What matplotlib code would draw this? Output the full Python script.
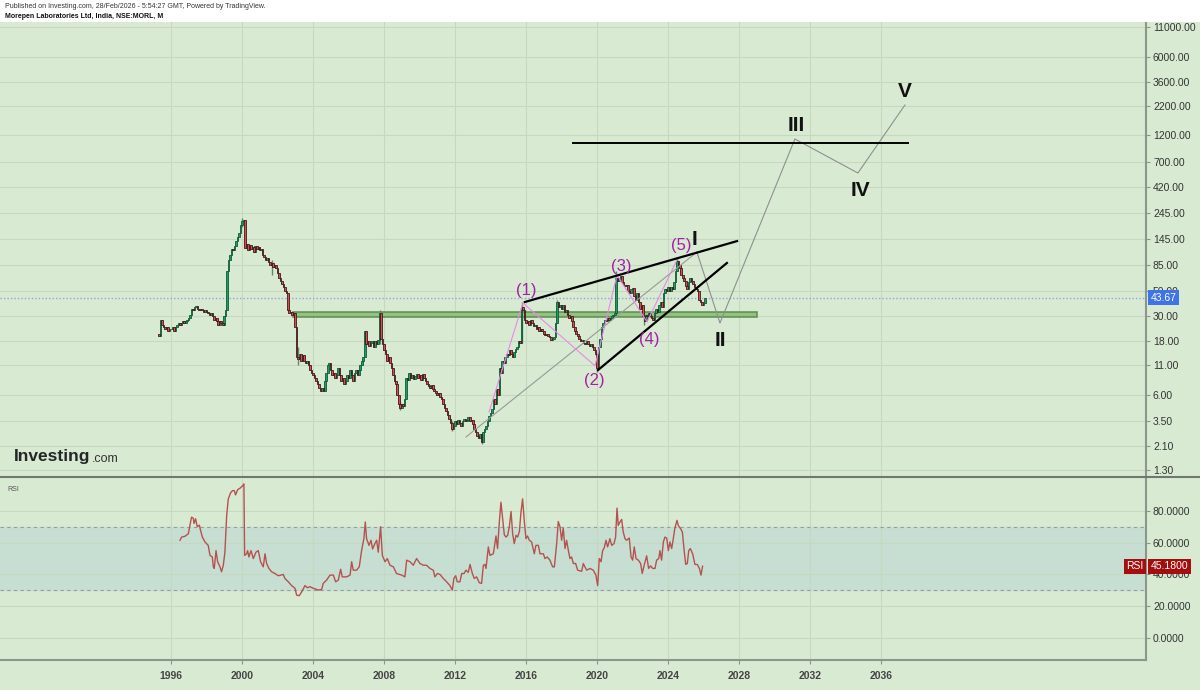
import numpy as np
import matplotlib.pyplot as plt
from matplotlib.patches import Rectangle
from matplotlib.ticker import FixedLocator, FixedFormatter, NullLocator
from matplotlib.lines import Line2D

plt.rcParams['font.family'] = ['Liberation Sans', 'DejaVu Sans']

# monthly closes, first bar May 1995, last bar Feb 2026
start_year, start_month = 1995, 5
first_open = 21.0
closes = [
    20, 28, 25, 24, 23, 24, 22, 23,                                   # 1995
    23, 24, 22, 24, 25, 26, 25, 26, 27, 26, 27, 28,                   # 1996
    29, 31, 35, 34, 36, 37, 35, 34, 35, 34, 33, 34,                   # 1997
    33, 32, 31, 32, 30, 28, 29, 27, 25, 27, 26, 25,                   # 1998
    30, 34, 75, 95, 105, 118, 115, 125, 140, 150, 165, 195,           # 1999
    210, 215, 120, 130, 115, 128, 118, 124, 112, 125, 118, 122,       # 2000
    115, 118, 105, 100, 95, 98, 90, 85, 88, 82, 86, 80,               # 2001
    72, 66, 62, 58, 55, 50, 48, 34, 32, 33, 31, 32,                   # 2002
    24, 13, 12.5, 14, 12, 13.5, 12, 11.5, 12, 11, 10, 9.5,            # 2003
    9, 8.5, 8, 7.5, 7, 6.5, 7, 6.5, 8, 9.5, 11, 11.5,                 # 2004
    10, 9, 9.5, 8.5, 9, 10.5, 9, 8, 8.5, 7.5, 8, 9,                   # 2005
    8.5, 10, 9, 8, 9.5, 10, 9, 10, 11, 12, 13, 22,                    # 2006
    17, 18, 16.5, 17.5, 18, 16, 18, 17, 18.5, 32, 19, 17,             # 2007
    15, 14, 12, 13, 11.5, 10.5, 9, 8, 7.5, 6, 5, 4.6,                 # 2008
    5.0, 4.8, 5.5, 8.5, 8.2, 9.5, 8.5, 9, 8.3, 8.8, 9.2, 8.5,         # 2009
    9, 8.2, 9.3, 8.5, 8, 7.5, 7.2, 7, 7.3, 6.8, 6.5, 6.2,             # 2010
    6, 6.3, 5.8, 5.5, 5, 4.6, 4.3, 4.0, 3.7, 3.4, 3.0, 3.2,           # 2011
    3.5, 3.3, 3.6, 3.4, 3.2, 3.5, 3.7, 3.5, 3.6, 3.8, 3.5, 3.6,       # 2012
    3.3, 3.0, 2.8, 2.6, 2.5, 2.7, 2.3, 2.8, 3.0, 3.2, 3.5, 3.9,       # 2013
    4.2, 4.5, 5.5, 5.0, 6.8, 6.0, 10.5, 9.5, 12, 11.5, 13, 14,        # 2014
    13.5, 15, 14, 13, 14.5, 15.5, 16, 18, 17.5, 36, 34, 28,           # 2015
    26, 27, 25, 28, 26, 24.5, 25, 23, 24, 22, 23, 22,                 # 2016
    21, 20.5, 21, 20, 19.5, 18.5, 19, 19.5, 26, 40, 36, 38,           # 2017
    35, 38, 33, 34, 31, 29, 30, 27, 24, 22, 21, 20,                   # 2018
    19, 18, 18.5, 17.5, 17, 18, 17, 16.5, 17, 16, 15, 14,             # 2019
    10.5, 16, 19, 24, 26, 28, 27, 29, 28, 29, 30, 31,                 # 2020
    32, 66, 62, 66, 68, 60, 57, 56, 57, 50, 48, 52,                   # 2021
    53, 45, 42, 48, 40, 35, 38, 30, 27, 31, 30, 32,                   # 2022
    30, 29, 28, 32, 35, 33, 38, 40, 36, 48, 52, 50,                   # 2023
    54, 50, 55, 52, 60, 75, 92, 85, 80, 70, 65, 62,                   # 2024
    56, 52, 60, 65, 62, 58, 55, 52, 50, 42, 40, 38,                   # 2025
    39, 43.67,                                                        # 2026
]
# a few notable wicks: (year, month): (low, high)
wicks = {
    (2000, 1): (185, 222), (2001, 9): (70, 95), (2003, 3): (11, 16), (2007, 10): (17, 34),
    (2008, 12): (4.4, 5.2), (2011, 11): (2.9, 3.5), (2013, 7): (2.2, 2.7),
    (2015, 10): (17.5, 40), (2017, 10): (26, 42), (2020, 1): (9.6, 14),
    (2021, 2): (32, 75), (2022, 9): (25, 30), (2024, 7): (75, 100),
}
last_price = 43.67

# RSI(14)
rsi_t = [1996.51, 1996.60, 1996.79, 1996.98, 1997.07, 1997.16, 1997.26, 1997.30, 1997.39, 1997.48,
         1997.60, 1997.67, 1997.77, 1997.92, 1998.10, 1998.20, 1998.33, 1998.39, 1998.44, 1998.54,
         1998.63, 1998.76, 1998.85, 1998.95, 1999.04, 1999.14, 1999.23, 1999.36, 1999.47, 1999.57,
         1999.64, 1999.76, 1999.89, 2000.04, 2000.11, 2000.15, 2000.26, 2000.32, 2000.39, 2000.51,
         2000.64, 2000.79, 2000.92, 2001.05, 2001.20, 2001.30, 2001.39, 2001.52, 2001.67, 2001.86,
         2002.05, 2002.33, 2002.42, 2002.61, 2002.80, 2002.99, 2003.08, 2003.23, 2003.36, 2003.55,
         2003.68, 2003.83, 2004.02, 2004.30, 2004.49, 2004.58, 2004.77, 2004.96, 2005.15, 2005.28,
         2005.43, 2005.56, 2005.65, 2005.90, 2006.09, 2006.18, 2006.27, 2006.46, 2006.61, 2006.74,
         2006.87, 2006.95, 2007.02, 2007.16, 2007.27, 2007.36, 2007.49, 2007.59, 2007.68, 2007.81,
         2007.91, 2008.06, 2008.19, 2008.34, 2008.53, 2008.71, 2009.00, 2009.18, 2009.28, 2009.47,
         2009.65, 2009.84, 2010.03, 2010.22, 2010.40,
         2010.59, 2010.78, 2010.87, 2011.01, 2011.16, 2011.34, 2011.53, 2011.72, 2011.85, 2011.94,
         2012.04, 2012.13, 2012.28, 2012.38, 2012.51, 2012.62, 2012.75, 2012.85, 2012.98, 2013.09,
         2013.22, 2013.37, 2013.50, 2013.60, 2013.69, 2013.75, 2013.88, 2013.97, 2014.16, 2014.25,
         2014.31, 2014.40, 2014.50, 2014.59, 2014.69, 2014.78, 2014.87, 2014.97, 2015.06, 2015.16,
         2015.25, 2015.34, 2015.44, 2015.53, 2015.63, 2015.72, 2015.81, 2015.91, 2016.00, 2016.09,
         2016.19, 2016.32, 2016.47, 2016.56, 2016.70, 2016.79, 2016.98, 2017.07, 2017.20, 2017.35,
         2017.50, 2017.60, 2017.73, 2017.82, 2017.92, 2018.01, 2018.10, 2018.20, 2018.29, 2018.39,
         2018.48, 2018.57, 2018.67, 2018.80, 2018.91, 2019.14, 2019.23, 2019.32, 2019.42, 2019.61,
         2019.79, 2019.94, 2020.04, 2020.13, 2020.23, 2020.32, 2020.41, 2020.51, 2020.60, 2020.73,
         2020.83, 2020.96, 2021.05, 2021.13, 2021.20, 2021.30, 2021.39, 2021.48, 2021.58, 2021.67,
         2021.82, 2021.92, 2022.01, 2022.10, 2022.20, 2022.33, 2022.46, 2022.55, 2022.65, 2022.80,
         2022.91, 2023.02, 2023.14, 2023.27, 2023.36, 2023.48, 2023.55, 2023.64, 2023.74, 2023.83,
         2023.93, 2024.02, 2024.11, 2024.21, 2024.30, 2024.39, 2024.51, 2024.58, 2024.71, 2024.81,
         2024.90, 2025.00, 2025.09, 2025.17, 2025.26, 2025.39, 2025.52, 2025.65, 2025.77, 2025.86,
         2025.95]
rsi_v = [61.5, 63.5, 64.0, 65.6, 70.8, 76.0, 75.4, 72.0, 75.0, 70.0,
         71.0, 67.7, 63.5, 60.4, 58.3, 52.0, 51.0, 44.8, 43.8, 55.0,
         48.0, 44.8, 41.7, 45.8, 54.0, 77.0, 87.5, 91.3, 92.7, 92.7,
         90.0, 93.3, 94.2, 95.8, 96.9, 52.0, 53.0, 55.0, 51.0, 55.0,
         50.0, 54.0, 55.0, 48.0, 44.8, 53.0, 46.9, 43.8, 41.7, 40.6,
         39.2, 40.0, 37.5, 35.4, 33.0, 31.3, 27.0, 26.7, 29.0, 33.0,
         31.7, 32.3, 31.3, 30.2, 30.6, 34.4, 36.5, 39.6, 39.6, 35.4,
         36.5, 43.3, 38.5, 38.5, 39.6, 48.0, 42.7, 42.7, 44.8, 55.0,
         62.5, 73.0, 62.5, 58.3, 61.5, 56.0, 59.4, 61.5, 54.0, 70.0,
         52.0, 48.0, 50.0, 45.8, 44.8, 40.6, 39.6, 38.5, 49.0, 48.0,
         45.8, 50.0, 46.9, 45.8, 45.8,
         43.8, 42.7, 38.5, 40.6, 40.0, 37.5, 35.4, 33.0, 30.2, 37.5,
         39.2, 35.4, 35.4, 40.6, 40.6, 42.7, 41.3, 46.3, 40.6, 37.5,
         38.5, 34.8, 34.4, 45.8, 46.3, 43.8, 57.3, 52.0, 53.0, 59.4,
         64.2, 56.3, 73.0, 85.4, 75.0, 65.0, 63.5, 64.6, 69.8, 79.6,
         65.6, 59.4, 64.6, 63.5, 67.0, 79.2, 87.5, 73.0, 62.5, 64.2,
         61.5, 60.4, 53.0, 58.3, 58.3, 53.0, 53.0, 50.0, 51.0, 49.0,
         44.8, 44.8, 59.4, 73.3, 69.8, 61.5, 69.2, 56.3, 61.5, 55.0,
         50.0, 51.0, 46.9, 46.9, 42.7, 42.0, 46.9, 44.8, 42.7, 43.8,
         42.7, 39.6, 33.0, 50.0, 48.0, 55.0, 56.7, 61.5, 57.3, 62.5,
         58.3, 59.4, 63.5, 81.7, 70.8, 73.0, 74.6, 66.7, 62.5, 61.5,
         62.9, 51.0, 49.0, 57.3, 50.0, 49.0, 46.9, 40.6, 45.4, 51.7,
         43.8, 45.4, 43.8, 43.8, 49.0, 50.0, 55.0, 49.0, 60.4, 63.5,
         62.9, 55.0, 60.4, 56.3, 62.5, 69.2, 74.0, 70.8, 68.8, 66.7,
         56.3, 46.3, 46.9, 55.0, 56.3, 53.0, 46.3, 46.3, 43.8, 39.6,
         45.18]
rsi_last = 45.18

# Elliott wave drawing
wave_t = [2013.92, 2015.83, 2019.89, 2021.13, 2022.82, 2024.56]
wave_p = [4.25, 39.3, 10.9, 69.5, 26.7, 98.5]
wave_labels = ["(1)", "(2)", "(3)", "(4)", "(5)"]
wave_label_t = [2016.0, 2019.83, 2021.35, 2022.93, 2024.73]
wave_label_p = [50.2, 8.0, 83.6, 18.8, 128]

proj_t = [2025.63, 2026.93, 2031.15, 2034.70, 2037.35]
proj_p = [111, 26.1, 1117, 558, 2237]
proj_labels = ["I", "II", "III", "IV", "V"]
proj_label_t = [2025.52, 2026.93, 2031.21, 2034.82, 2037.35]
proj_label_p = [145, 18.1, 1486, 394, 2917]

trend_t = [2012.62, 2025.63]
trend_p = [2.55, 111]
upper_t = [2015.94, 2027.89]
upper_p = [40.1, 139]
lower_t = [2020.06, 2027.32]
lower_p = [10.0, 88.9]
resist_t = [2018.65, 2037.52]
resist_p = [1030, 1030]
zone_t = [2002.87, 2029.0]
zone_p = [29.3, 32.9]

price_ticks = [1.3, 2.1, 3.5, 6, 11, 18, 30, 50, 85, 145, 245, 420, 700, 1200, 2200, 3600, 6000, 11000]
rsi_ticks = [80, 60, 40, 20, 0]
year_ticks = [1996, 2000, 2004, 2008, 2012, 2016, 2020, 2024, 2028, 2032, 2036]

BG = '#d9ead3'
GRID = '#c6d8c0'
UP = '#1f9a63'
DOWN = '#e04a4a'
AXIS = '#8d968d'

fig = plt.figure(figsize=(12, 6.9), dpi=100, facecolor=BG)
fig.patches.append(Rectangle((0, 1 - 22 / 690), 1, 22 / 690, transform=fig.transFigure,
                             facecolor='white', edgecolor='none', zorder=0))
ax = fig.add_axes([0, 1 - 476 / 690, 1146 / 1200, 454 / 690])
rx = fig.add_axes([0, 1 - 660 / 690, 1146 / 1200, 181 / 690], sharex=ax)
for a in (ax, rx):
    a.set_facecolor(BG)
    for s in ('left', 'top'):
        a.spines[s].set_visible(False)
    a.spines['right'].set_color(AXIS)
    a.spines['right'].set_linewidth(1.5)
    a.yaxis.tick_right()
    a.tick_params(axis='y', colors=AXIS, labelcolor='#333333', labelsize=7.5, length=3, pad=2)
    a.grid(True, color=GRID, linewidth=0.8)
    a.set_axisbelow(True)

# candles
n = len(closes)
t = np.array([start_year + (start_month - 1 + i) / 12 for i in range(n)])
c = np.array(closes, dtype=float)
o = np.concatenate([[first_open], c[:-1]])
up = c >= o
for i in range(n):
    y = start_year + (start_month - 1 + i) // 12
    m = (start_month - 1 + i) % 12 + 1
    if (y, m) in wicks:
        lo, hi = wicks[(y, m)]
        ax.vlines(t[i], lo, hi, color='#5f8a63', linewidth=1.0, zorder=2)
lo_b = np.minimum(o, c)
hi_b = np.maximum(o, c)
ax.bar(t[up], hi_b[up] - lo_b[up], bottom=lo_b[up], width=0.09, color=UP,
       edgecolor='#0f5a38', linewidth=0.6, zorder=3)
ax.bar(t[~up], hi_b[~up] - lo_b[~up], bottom=lo_b[~up], width=0.09, color=DOWN,
       edgecolor='#3a1a1a', linewidth=0.6, zorder=3)

ax.set_yscale('log')
ax.set_ylim(1.15, 12170)
ax.set_xlim(1986.37, 2050.93)
ax.yaxis.set_major_locator(FixedLocator(price_ticks))
ax.yaxis.set_major_formatter(FixedFormatter(['%.2f' % v for v in price_ticks]))
ax.yaxis.set_minor_locator(NullLocator())
ax.spines['bottom'].set_visible(False)
ax.tick_params(axis='x', length=0, labelbottom=False)

# support zone
ax.add_patch(Rectangle((zone_t[0], zone_p[0]), zone_t[1] - zone_t[0], zone_p[1] - zone_p[0],
                       facecolor='#8dbd7c', edgecolor='#5a8c4d', linewidth=1.2, alpha=0.9, zorder=2))

# last price line
ax.axhline(last_price, color='#8fa6d8', linestyle=(0, (1, 1.5)), linewidth=1, zorder=1)

# drawings
ax.plot(trend_t, trend_p, color='#999999', linewidth=0.8, zorder=4)
ax.plot(wave_t, wave_p, color='#e889e8', linewidth=0.8, zorder=4)
ax.plot(proj_t, proj_p, color='#8f8f8f', linewidth=0.8, zorder=4)
ax.plot(upper_t, upper_p, color='black', linewidth=1.6, zorder=5)
ax.plot(lower_t, lower_p, color='black', linewidth=1.6, zorder=5)
ax.plot(resist_t, resist_p, color='black', linewidth=1.4, zorder=5)
for lab, lt, lp in zip(wave_labels, wave_label_t, wave_label_p):
    ax.text(lt, lp, lab, color='#a41fa8', fontsize=12, ha='center', va='center', zorder=6)
for lab, lt, lp in zip(proj_labels, proj_label_t, proj_label_p):
    ax.text(lt, lp, lab, color='#111111', fontsize=15, fontweight='bold', ha='center', va='center', zorder=6)

ax.text(1.004, last_price, '43.67', transform=ax.get_yaxis_transform(), color='white', fontsize=7.5,
        ha='left', va='center', zorder=10, clip_on=False,
        bbox=dict(boxstyle='square,pad=0.25', facecolor='#3f74e6', edgecolor='none'))

ax.text(14 / 1146, 1 - (457 - 22) / 454, 'Investing', transform=ax.transAxes, fontsize=12.5,
        fontweight='bold', color='#262626', ha='left', va='center')
ax.text(92 / 1146, 1 - (459 - 22) / 454, '.com', transform=ax.transAxes, fontsize=9,
        color='#333333', ha='left', va='center')

# RSI pane
rx.axhspan(30, 70, color='#c7dfd2', zorder=0)
rx.axhline(70, color='#9a9a9a', linestyle=(0, (3, 3)), linewidth=0.8)
rx.axhline(30, color='#9a9a9a', linestyle=(0, (3, 3)), linewidth=0.8)
rx.plot(rsi_t, rsi_v, color='#b4524f', linewidth=1.0, zorder=3)
rx.set_ylim(-13.75, 100)
rx.yaxis.set_major_locator(FixedLocator(rsi_ticks))
rx.yaxis.set_major_formatter(FixedFormatter(['%.4f' % v for v in rsi_ticks]))
rx.xaxis.set_major_locator(FixedLocator(year_ticks))
rx.xaxis.set_major_formatter(FixedFormatter([str(y) for y in year_ticks]))
rx.spines['bottom'].set_color(AXIS)
rx.spines['bottom'].set_linewidth(1.5)
rx.tick_params(axis='x', colors=AXIS, labelcolor='#444444', labelsize=7.5, length=3, pad=5)
for lab in rx.get_xticklabels():
    lab.set_fontweight('bold')
rx.text(0.006, 0.96, 'RSI', transform=rx.transAxes, fontsize=5, color='#555555', va='top')
rx.text(1.004, rsi_last, '45.1800', transform=rx.get_yaxis_transform(), color='white', fontsize=7.5,
        ha='left', va='center', zorder=10, clip_on=False,
        bbox=dict(boxstyle='square,pad=0.25', facecolor='#a50e0e', edgecolor='none'))
rx.text(0.998, rsi_last, 'RSI', transform=rx.get_yaxis_transform(), color='white', fontsize=7.5,
        ha='right', va='center', zorder=10, clip_on=False,
        bbox=dict(boxstyle='square,pad=0.25', facecolor='#a50e0e', edgecolor='none'))

# pane separator
fig.add_artist(Line2D([0, 1], [1 - 477 / 690] * 2, transform=fig.transFigure, color='#6f786f', linewidth=1.5))

# header
fig.text(5 / 1200, 1 - 7 / 690, 'Published on Investing.com, 28/Feb/2026 - 5:54:27 GMT, Powered by TradingView.',
         fontsize=5, color='#333333', va='center')
fig.text(5 / 1200, 1 - 17 / 690, 'Morepen Laboratories Ltd, India, NSE:MORL, M',
         fontsize=5, fontweight='bold', color='#111111', va='center')

fig.savefig('out.png', dpi=100, facecolor=BG)
